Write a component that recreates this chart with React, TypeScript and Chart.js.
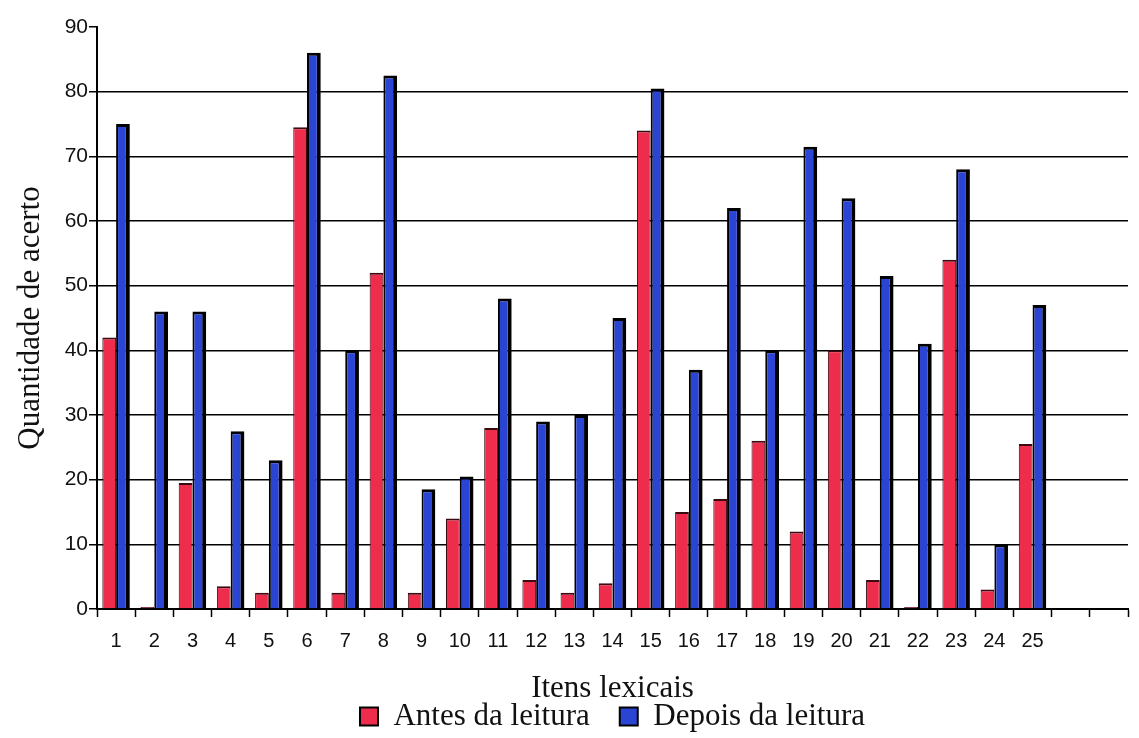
import React, { useEffect, useRef } from 'react';
import { Chart, registerables } from 'chart.js';

Chart.register(...registerables);

const categories = ['1','2','3','4','5','6','7','8','9','10','11','12','13','14','15','16','17','18','19','20','21','22','23','24','25','',''];
const antesDaLeitura = [42, 0.3, 19.5, 3.5, 2.5, 74.5, 2.5, 52, 2.5, 14, 28, 4.5, 2.5, 4, 74, 15, 17, 26, 12, 40, 4.5, 0.3, 54, 3, 25.5, null, null];
const depoisDaLeitura = [75, 46, 46, 27.5, 23, 86, 40, 82.5, 18.5, 20.5, 48, 29, 30, 45, 80.5, 37, 62, 40, 71.5, 63.5, 51.5, 41, 68, 10, 47, null, null];
const seriesNames = ['Antes da leitura', 'Depois da leitura'];
const yTitle = 'Quantidade de acerto';
const xTitle = 'Itens lexicais';

export default function App() {
  const ref = useRef<HTMLCanvasElement>(null);
  useEffect(() => {
    document.body.style.margin = '0';
    const canvas = ref.current!;
    const chart = new Chart(canvas, {
      type: 'bar',
      data: {
        labels: categories,
        datasets: [
          {
            label: seriesNames[0],
            data: antesDaLeitura,
            backgroundColor: '#ee2c4c',
            borderColor: '#3a0a10',
            borderWidth: { left: 1, right: 1, top: 2, bottom: 0 },
            borderSkipped: 'bottom',
          },
          {
            label: seriesNames[1],
            data: depoisDaLeitura,
            backgroundColor: '#2a44d4',
            borderColor: '#000000',
            borderWidth: { left: 2, right: 4, top: 3, bottom: 0 },
            borderSkipped: 'bottom',
          },
        ],
      },
      options: {
        responsive: false,
        animation: false,
        devicePixelRatio: 1,
        layout: { padding: { top: 27, right: 11, left: 0, bottom: -4 } },
        datasets: { bar: { categoryPercentage: 0.72, barPercentage: 1 } },
        scales: {
          x: {
            offset: true,
            grid: {
              display: true,
              offset: true,
              drawOnChartArea: false,
              drawTicks: true,
              tickLength: 8,
              color: '#000',
              tickColor: '#000',
              tickWidth: 1.5,
            },
            border: { display: true, color: '#000', width: 2 },
            ticks: {
              autoSkip: false,
              maxRotation: 0,
              minRotation: 0,
              padding: 12,
              color: '#111',
              font: { family: '"Liberation Sans", Arial, sans-serif', size: 20 },
            },
            title: {
              display: true,
              text: xTitle,
              color: '#111',
              font: { family: '"Liberation Serif", "Times New Roman", serif', size: 31, lineHeight: 1 },
              padding: { top: 0, bottom: -33 },
            },
            afterFit: (scale: any) => { scale.height = 62; },
          },
          y: {
            min: 0,
            max: 90,
            ticks: {
              stepSize: 10,
              padding: 1,
              color: '#111',
              font: { family: '"Liberation Sans", Arial, sans-serif', size: 21 },
            },
            grid: {
              drawTicks: true,
              tickLength: 8,
              tickColor: '#000',
              tickWidth: 1.5,
              lineWidth: 1.5,
              color: (ctx: any) => (ctx.tick && (ctx.tick.value === 90 || ctx.tick.value === 0) ? 'rgba(0,0,0,0)' : '#000'),
            },
            border: { display: true, color: '#000', width: 2 },
            title: {
              display: true,
              text: yTitle,
              color: '#111',
              font: { family: '"Liberation Serif", "Times New Roman", serif', size: 31, lineHeight: 1 },
              padding: { top: 15, bottom: 0 },
            },
            afterFit: (scale: any) => { scale.width = 97; },
          },
        },
        plugins: {
          legend: {
            position: 'bottom',
            fullSize: false,
            labels: {
              boxWidth: 18,
              boxHeight: 18,
              padding: 30,
              color: '#111',
              font: { family: '"Liberation Serif", "Times New Roman", serif', size: 31 },
              generateLabels: (c: any) => {
                const items = Chart.defaults.plugins.legend.labels.generateLabels(c);
                items.forEach((it: any) => { it.strokeStyle = '#000'; it.lineWidth = 2; });
                return items;
              },
            },
          },
          tooltip: { enabled: false },
        },
      },
    });
    return () => chart.destroy();
  }, []);
  return (
    <div style={{ position: 'absolute', left: 0, top: 0, width: 1139, height: 738, background: '#fff' }}>
      <canvas ref={ref} width={1139} height={738} style={{ width: 1139, height: 738, display: 'block' }} />
    </div>
  );
}
